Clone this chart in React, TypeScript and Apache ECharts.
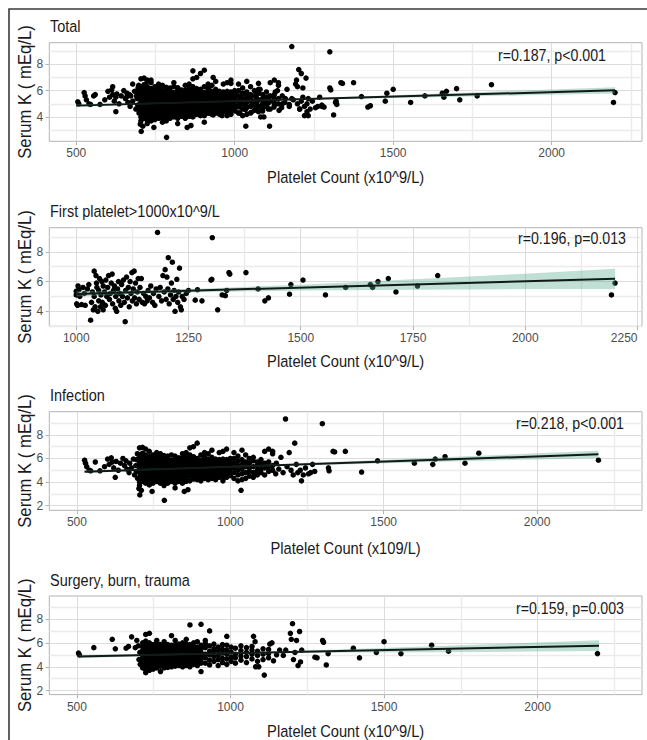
import React, { useEffect, useRef } from "react";
import * as echarts from "echarts";

// ---------- data: Infection ----------
const infectionSparse: [number, number][] = [
  [525, 5.85], [528, 5.6], [532, 5.3], [540, 5.0], [545, 4.95], [560, 5.7], [575, 4.95], [590, 5.3],
  [600, 5.95], [605, 5.5], [612, 6.05], [615, 5.7], [620, 5.2], [625, 4.4], [628, 5.75], [635, 5.0],
  [642, 5.6], [650, 6.0], [655, 5.4], [660, 5.8], [663, 5.1], [670, 4.8], [672, 5.6], [678, 5.2],
  [684, 5.95], [688, 4.6], [692, 5.4], [695, 5.9], [694, 4.9], [697, 6.4], [698, 4.3],
  [702, 3.45], [705, 2.9], [710, 3.3], [745, 3.2], [785, 2.45], [850, 3.2], [862, 3.35], [1035, 3.3],
  [1148, 4.7], [1150, 5.6], [1158, 5.1], [1165, 6.1], [1172, 4.8], [1180, 9.35], [1185, 5.3], [1192, 6.5],
  [1198, 5.0], [1205, 4.6], [1210, 7.3], [1215, 5.5], [1220, 4.8], [1228, 5.0], [1232, 4.1], [1238, 4.6],
  [1245, 5.2], [1255, 4.7], [1262, 4.8], [1268, 5.5], [1275, 4.9],
  [1300, 8.95], [1320, 5.2], [1322, 4.95], [1335, 6.6], [1340, 6.55], [1375, 6.6], [1428, 4.85], [1480, 5.8],
  [1600, 5.6], [1660, 5.5], [1668, 5.95], [1700, 6.15], [1765, 5.6], [1810, 6.45], [2200, 5.85],
];
const infectionColumns: [number, number[]][] = [
  [704, [3.7, 4.0, 4.4, 4.8, 5.1, 5.4, 5.7, 6.0, 6.3, 6.9]],
  [714, [4.05, 4.35, 4.65, 4.95, 5.25, 5.55, 5.85, 6.15, 6.45, 6.95]],
  [724, [3.9, 4.2, 4.5, 4.8, 5.1, 5.4, 5.7, 6.0, 6.3, 6.8]],
  [736, [3.75, 4.05, 4.35, 4.65, 4.95, 5.25, 5.55, 5.85, 6.15, 6.6]],
  [748, [3.9, 4.2, 4.5, 4.8, 5.1, 5.4, 5.7, 6.0, 6.3]],
  [760, [4.05, 4.35, 4.65, 4.95, 5.25, 5.55, 5.85, 6.15, 6.5]],
  [772, [3.9, 4.2, 4.5, 4.8, 5.1, 5.4, 5.7, 6.0, 6.4]],
  [784, [3.7, 4.05, 4.35, 4.65, 4.95, 5.25, 5.55, 5.85, 6.25]],
  [796, [3.9, 4.2, 4.5, 4.8, 5.1, 5.4, 5.7, 6.0, 6.2]],
  [808, [4.05, 4.35, 4.65, 4.95, 5.25, 5.55, 5.85, 6.3]],
  [820, [3.5, 3.9, 4.2, 4.5, 4.8, 5.1, 5.4, 5.7, 6.0, 6.2]],
  [832, [4.05, 4.35, 4.65, 4.95, 5.25, 5.55, 5.85, 6.05]],
  [844, [3.9, 4.2, 4.5, 4.8, 5.1, 5.4, 5.7, 6.0, 6.4]],
  [856, [4.05, 4.35, 4.65, 4.95, 5.25, 5.55, 5.85, 6.15, 6.5]],
  [868, [4.1, 4.5, 4.8, 5.1, 5.4, 5.7, 6.0, 6.3, 6.9]],
  [880, [4.25, 4.65, 4.95, 5.25, 5.55, 5.85, 6.15, 7.0]],
  [892, [4.2, 4.5, 4.8, 5.1, 5.4, 5.7, 6.0, 7.3]],
  [904, [4.1, 4.35, 4.65, 4.95, 5.25, 5.55, 5.85, 6.3]],
  [916, [4.3, 4.6, 4.9, 5.2, 5.5, 5.8, 6.1, 6.5]],
  [928, [4.2, 4.45, 4.75, 5.05, 5.35, 5.65, 5.95, 6.4]],
  [940, [4.3, 4.6, 4.9, 5.2, 5.5, 5.8, 6.1, 6.7]],
  [952, [4.2, 4.45, 4.75, 5.05, 5.35, 5.65, 5.95]],
  [964, [4.4, 4.7, 5.0, 5.3, 5.6, 5.9, 6.5]],
  [976, [4.1, 4.45, 4.75, 5.05, 5.35, 5.65, 5.95, 6.6]],
  [988, [4.4, 4.7, 5.0, 5.3, 5.6, 5.9, 6.8]],
  [1000, [4.55, 4.85, 5.15, 5.45, 5.75, 6.0]],
  [1012, [4.3, 4.8, 5.2, 5.6, 6.0, 6.5]],
  [1025, [4.1, 4.6, 5.0, 5.4, 5.8, 6.2]],
  [1038, [4.2, 4.7, 5.1, 5.5, 5.9, 6.7]],
  [1050, [4.3, 4.8, 5.3, 5.7, 6.3]],
  [1062, [4.5, 4.9, 5.2, 5.6, 6.0]],
  [1075, [4.4, 4.8, 5.3, 5.8, 6.1]],
  [1088, [4.6, 5.0, 5.4, 5.7]],
  [1100, [4.8, 5.1, 5.5, 5.9]],
  [1112, [4.6, 5.2, 5.6, 6.6]],
  [1125, [4.9, 5.3, 5.7, 6.8]],
  [1138, [5.0, 5.4, 6.4, 6.6]],
];

// ---------- data: Surgery, burn, trauma ----------
const surgerySparse: [number, number][] = [
  [505, 5.15], [508, 5.0], [555, 5.6], [615, 6.3], [625, 5.5], [660, 5.55], [668, 5.7], [678, 6.5],
  [690, 5.6], [695, 6.2], [700, 5.75], [705, 5.2], [702, 4.6], [706, 4.2],
  [1075, 6.55], [1080, 6.1], [1082, 4.0], [1092, 4.0], [1110, 3.3], [1128, 5.9], [1135, 6.0], [1140, 4.5],
  [1150, 5.0], [1160, 5.4], [1172, 4.95], [1180, 5.4], [1195, 6.8], [1198, 6.3], [1202, 7.6], [1205, 4.6],
  [1210, 5.2], [1215, 6.2], [1220, 4.1], [1225, 6.95], [1228, 4.4], [1232, 5.4], [1275, 4.8], [1282, 4.75],
  [1300, 6.2], [1303, 6.05], [1312, 4.15], [1318, 5.1], [1400, 5.55], [1420, 4.75], [1475, 5.2], [1500, 6.1],
  [1555, 5.1], [1655, 5.8], [1710, 5.3], [2195, 5.1],
];
const surgeryColumns: [number, number[]][] = [
  [714, [3.9, 4.2, 4.5, 4.8, 5.1, 5.4, 5.7, 6.0]],
  [724, [3.5, 3.75, 4.05, 4.35, 4.65, 4.95, 5.25, 5.55, 5.85, 6.15, 6.7]],
  [736, [3.7, 3.9, 4.2, 4.5, 4.8, 5.1, 5.4, 5.7, 6.0, 6.8]],
  [748, [3.8, 4.05, 4.35, 4.65, 4.95, 5.25, 5.55, 5.85]],
  [760, [3.9, 4.2, 4.5, 4.8, 5.1, 5.4, 5.7, 6.0, 6.2]],
  [772, [3.6, 4.05, 4.35, 4.65, 4.95, 5.25, 5.55, 5.85]],
  [784, [3.9, 4.2, 4.5, 4.8, 5.1, 5.4, 5.7, 6.1]],
  [796, [3.95, 4.35, 4.65, 4.95, 5.25, 5.55, 5.85]],
  [808, [4.0, 4.3, 4.6, 4.9, 5.2, 5.5, 5.8, 6.6]],
  [820, [4.05, 4.35, 4.65, 4.95, 5.25, 5.55, 5.85, 6.2]],
  [832, [4.1, 4.4, 4.7, 5.0, 5.3, 5.6, 5.9]],
  [844, [4.0, 4.3, 4.6, 4.9, 5.2, 5.5, 5.8, 6.0]],
  [856, [4.1, 4.4, 4.7, 5.0, 5.3, 5.6, 5.9, 6.3]],
  [868, [4.0, 4.35, 4.65, 4.95, 5.25, 5.55, 5.85, 7.5]],
  [880, [4.2, 4.5, 4.8, 5.1, 5.4, 5.7, 6.0]],
  [892, [4.1, 4.45, 4.75, 5.05, 5.35, 5.65, 6.1]],
  [904, [3.6, 4.3, 4.6, 4.9, 5.2, 5.5, 5.8, 7.55]],
  [918, [4.3, 4.75, 5.05, 5.6, 5.95, 6.2]],
  [932, [4.15, 4.55, 5.0, 5.3, 5.75, 7.0]],
  [946, [4.45, 4.85, 5.25, 5.5, 5.9]],
  [960, [4.1, 4.6, 4.95, 5.35, 5.65]],
  [974, [4.35, 4.7, 5.15, 5.45, 5.85]],
  [988, [4.2, 4.65, 5.05, 5.4, 5.8, 6.55]],
  [1002, [4.45, 4.8, 5.25, 5.65]],
  [1016, [4.3, 4.75, 5.05, 5.55]],
  [1034, [4.55, 4.9, 5.35, 5.75]],
  [1052, [4.35, 4.85, 5.2, 5.6]],
  [1070, [4.65, 5.05, 5.4, 5.7]],
  [1088, [4.45, 4.95, 5.3]],
  [1106, [4.6, 5.05, 5.5]],
  [1124, [4.75, 5.1, 5.45]],
];

// ---------- data: First platelet > 1000 ----------
const firstPlatelet: [number, number][] = [
  [1000, 5.1], [1000, 5.35], [1001, 4.5], [1003, 4.4], [1004, 5.7], [1006, 5.45], [1008, 5.0], [1012, 4.45],
  [1015, 5.6], [1018, 5.2], [1020, 4.4], [1025, 5.5], [1028, 5.8], [1032, 3.4], [1034, 4.6], [1036, 5.3],
  [1038, 4.1], [1040, 6.7], [1040, 5.0], [1042, 4.3], [1044, 6.4], [1045, 5.9], [1046, 5.6], [1048, 4.0],
  [1050, 4.7], [1050, 5.4], [1052, 6.2], [1054, 4.3], [1055, 5.1], [1057, 6.0], [1058, 4.6], [1060, 5.7],
  [1060, 4.1], [1063, 5.3], [1065, 4.4], [1066, 6.1], [1068, 5.0], [1070, 5.6], [1072, 6.4], [1074, 4.8],
  [1076, 5.2], [1078, 5.9], [1080, 6.5], [1081, 4.5], [1083, 5.4], [1085, 5.7], [1087, 4.2], [1088, 5.0],
  [1090, 4.0], [1092, 5.5], [1094, 6.0], [1095, 4.7], [1097, 5.2], [1099, 4.4], [1101, 5.8], [1103, 5.0],
  [1105, 6.1], [1107, 4.6], [1109, 3.3], [1110, 5.4], [1112, 6.3], [1114, 4.9], [1116, 5.6], [1118, 4.3],
  [1120, 6.0], [1122, 5.2], [1124, 6.6], [1125, 4.7], [1127, 5.5], [1129, 6.7], [1130, 4.9], [1132, 5.9],
  [1134, 4.5], [1136, 5.3], [1138, 6.2], [1140, 4.8], [1142, 5.6], [1145, 6.2], [1147, 4.6], [1150, 5.2],
  [1152, 4.5], [1155, 5.0], [1158, 4.7], [1160, 5.4], [1163, 4.9], [1166, 5.7], [1170, 4.6], [1172, 5.2],
  [1175, 4.4], [1178, 5.5], [1181, 9.3], [1184, 5.0], [1187, 5.6], [1190, 4.7], [1193, 6.4], [1196, 5.3],
  [1198, 6.8], [1200, 4.8], [1202, 6.3], [1204, 5.5], [1205, 7.6], [1207, 4.5], [1210, 5.1], [1212, 5.9],
  [1214, 7.3], [1216, 4.8], [1218, 5.4], [1220, 4.0], [1222, 5.0], [1224, 6.15], [1226, 4.6], [1228, 5.3],
  [1230, 6.9], [1232, 4.3], [1234, 4.1], [1236, 5.0], [1240, 4.8], [1245, 5.2], [1250, 5.4],
  [1265, 4.75], [1270, 5.45], [1280, 4.7], [1300, 6.1], [1302, 6.15], [1303, 8.95], [1315, 4.1], [1325, 5.1],
  [1332, 5.05], [1335, 5.4], [1340, 6.6], [1342, 6.5], [1378, 6.6], [1405, 5.5], [1420, 4.7], [1428, 4.9],
  [1475, 5.15], [1478, 5.8], [1505, 6.1], [1555, 5.1], [1600, 5.6], [1655, 5.8], [1660, 5.6], [1672, 6.0],
  [1695, 6.2], [1712, 5.3], [1760, 5.7], [1805, 6.4], [2192, 5.1], [2200, 5.9],
];

// ---------- fitted lines and confidence bands ----------
const totalFit: [number, number][] = [[500, 4.86], [2200, 6.02]];
const totalBandX = [500, 700, 900, 1100, 1300, 1500, 1700, 1950, 2200];
const totalBandLo = [4.76, 4.94, 5.09, 5.22, 5.34, 5.44, 5.54, 5.66, 5.78];
const totalBandHi = [4.96, 5.06, 5.17, 5.32, 5.48, 5.64, 5.82, 6.04, 6.26];

const firstFit: [number, number][] = [[1000, 5.17], [2200, 6.18]];
const firstBandX = [1000, 1150, 1300, 1500, 1750, 2000, 2200];
const firstBandLo = [5.0, 5.18, 5.29, 5.39, 5.45, 5.49, 5.5];
const firstBandHi = [5.34, 5.42, 5.55, 5.79, 6.15, 6.53, 6.86];

const infectionFit: [number, number][] = [[525, 4.88], [2200, 6.35]];
const infectionBandX = [525, 850, 1150, 1450, 1750, 2000, 2200];
const infectionBandLo = [4.76, 5.12, 5.36, 5.56, 5.76, 5.92, 6.05];
const infectionBandHi = [5.0, 5.22, 5.5, 5.82, 6.16, 6.44, 6.65];

const surgeryFit: [number, number][] = [[505, 4.86], [2200, 5.76]];
const surgeryBandX = [505, 800, 1100, 1400, 1700, 2000, 2200];
const surgeryBandLo = [4.71, 4.96, 5.11, 5.19, 5.22, 5.27, 5.31];
const surgeryBandHi = [5.01, 5.08, 5.25, 5.49, 5.76, 6.03, 6.21];

// ---------- texts / ticks ----------
const panelTitles = ["Total", "First platelet>1000x10^9/L", "Infection", "Surgery, burn, trauma"];
const statLabels = ["r=0.187, p<0.001", "r=0.196, p=0.013", "r=0.218, p<0.001", "r=0.159, p=0.003"];
const xTitles = ["Platelet Count (x10^9/L)", "Platelet Count (x10^9/L)", "Platelet Count (x109/L)", "Platelet Count (x10^9/L)"];
const yTitle = "Serum K ( mEq/L)";
const xMajorA = [500, 1000, 1500, 2000];
const xMinorA = [750, 1250, 1750, 2250];
const xMajorB = [1000, 1250, 1500, 1750, 2000, 2250];
const xMinorB = [1125, 1375, 1625, 1875, 2125];
const yMajor3 = [4, 6, 8];
const yMajor4 = [2, 4, 6, 8];
const yMinor = [3, 5, 7, 9];

const flatten = (cols: [number, number[]][]) => {
  const out: [number, number][] = [];
  cols.forEach(([x, ys]) => ys.forEach((y) => out.push([x, y])));
  return out;
};

export default function App() {
  const ref = useRef<HTMLDivElement>(null);
  useEffect(() => {
    if (!ref.current) return;
    const chart = echarts.init(ref.current, undefined, { renderer: "svg" });

    const infection = [...infectionSparse, ...flatten(infectionColumns)];
    const surgery = [...surgerySparse, ...flatten(surgeryColumns)];
    const total = [...infection, ...surgery];

    const panels = [
      { top: 42.7, xr: [415, 2285], yr: [2.15, 9.64], xMaj: xMajorA, xMin: xMinorA, yMaj: yMajor3, pts: total, fit: totalFit, bx: totalBandX, bl: totalBandLo, bh: totalBandHi, statX: 606, statY: 55, titleY: 26, xtY: 177 },
      { top: 227.7, xr: [940, 2260], yr: [2.99, 9.62], xMaj: xMajorB, xMin: xMinorB, yMaj: yMajor3, pts: firstPlatelet, fit: firstFit, bx: firstBandX, bl: firstBandLo, bh: firstBandHi, statX: 626, statY: 238, titleY: 211.5, xtY: 361.5 },
      { top: 411.7, xr: [410, 2342], yr: [1.6, 9.97], xMaj: xMajorA, xMin: xMinorA, yMaj: yMajor4, pts: infection, fit: infectionFit, bx: infectionBandX, bl: infectionBandLo, bh: infectionBandHi, statX: 624, statY: 423, titleY: 395, xtY: 548 },
      { top: 596, xr: [410, 2340], yr: [1.67, 9.92], xMaj: xMajorA, xMin: xMinorA, yMaj: yMajor4, pts: surgery, fit: surgeryFit, bx: surgeryBandX, bl: surgeryBandLo, bh: surgeryBandHi, statX: 624, statY: 608, titleY: 580, xtY: 731.5 },
    ];

    const gridLeft = 49.3;
    const gridW = 592.7;
    const gridH = 98.6;
    const grids: any[] = [];
    const xAxes: any[] = [];
    const yAxes: any[] = [];
    const series: any[] = [];
    const graphics: any[] = [];
    const sans = "'Liberation Sans', Arial, sans-serif";
    const tickLabel = (v: number) => String(v);

    panels.forEach((p, i) => {
      grids.push({
        left: gridLeft, top: p.top, width: gridW, height: gridH,
        show: true, borderColor: "#b3b3b3", borderWidth: 1, backgroundColor: "transparent",
        outerBoundsMode: "none", containLabel: false,
      });
      const common = { type: "value", gridIndex: i, min: p.xr[0], max: p.xr[1] };
      xAxes.push({
        ...common, position: "bottom",
        axisLine: { show: false },
        axisTick: { show: true, length: 3.7, lineStyle: { color: "#b3b3b3", width: 1 }, customValues: p.xMaj },
        axisLabel: { show: true, customValues: p.xMaj, formatter: tickLabel, color: "#4d4d4d", fontSize: 12, margin: 6, fontFamily: sans, alignMaxLabel: i === 1 ? "right" : null },
        splitLine: { show: true, customValues: p.xMaj, lineStyle: { color: "#dcdcdc", width: 1 } },
      });
      xAxes.push({
        ...common, position: "top",
        axisLine: { show: false },
        axisTick: { show: false, customValues: p.xMin },
        axisLabel: { show: false },
        splitLine: { show: true, customValues: p.xMin, lineStyle: { color: "#ebebeb", width: 1.4 } },
      });
      const ycommon = { type: "value", gridIndex: i, min: p.yr[0], max: p.yr[1] };
      yAxes.push({
        ...ycommon, position: "left",
        axisLine: { show: false },
        axisTick: { show: true, length: 3.7, lineStyle: { color: "#b3b3b3", width: 1 }, customValues: p.yMaj },
        axisLabel: { show: true, customValues: p.yMaj, formatter: tickLabel, color: "#4d4d4d", fontSize: 12, margin: 6, fontFamily: sans },
        splitLine: { show: true, customValues: p.yMaj, lineStyle: { color: "#dcdcdc", width: 1 } },
      });
      yAxes.push({
        ...ycommon, position: "right",
        axisLine: { show: false },
        axisTick: { show: false, customValues: yMinor },
        axisLabel: { show: false },
        splitLine: { show: true, customValues: yMinor, lineStyle: { color: "#ebebeb", width: 1.4 } },
      });

      const xi = i * 2;
      const yi = i * 2;
      series.push({
        type: "scatter", xAxisIndex: xi, yAxisIndex: yi, data: p.pts,
        symbol: "circle", symbolSize: 5.5, itemStyle: { color: "#000000", opacity: 1 }, silent: true, z: 2, clip: true,
      });
      const bx = p.bx, bl = p.bl, bh = p.bh;
      series.push({
        type: "custom", xAxisIndex: xi, yAxisIndex: yi, silent: true, z: 3, clip: true,
        data: bx.map((x, k) => [x, bl[k], bh[k]]),
        encode: { x: 0, y: [1, 2] },
        renderItem: (params: any, api: any) => {
          if (params.dataIndex !== 0) return null;
          const pts: number[][] = [];
          for (let k = 0; k < bx.length; k++) pts.push(api.coord([bx[k], bh[k]]));
          for (let k = bx.length - 1; k >= 0; k--) pts.push(api.coord([bx[k], bl[k]]));
          return { type: "polygon", shape: { points: pts }, style: { fill: "rgba(90,170,145,0.38)", stroke: "none" } };
        },
      });
      series.push({
        type: "line", xAxisIndex: xi, yAxisIndex: yi, data: p.fit, symbol: "none", silent: true, z: 4,
        lineStyle: { color: "#111a16", width: 2 },
      });

      const txt = (text: string, x: number, y: number, size: number, align: string, extra: any = {}) => ({
        type: "text", x, y, z: 100, silent: true, scaleY: 1.12, ...extra,
        style: { text, fill: "#1a1a1a", fontSize: size, fontFamily: sans, align, verticalAlign: "middle", textAlign: align, textVerticalAlign: "middle" },
      });
      graphics.push(txt(panelTitles[i], 50, p.titleY, 14.5, "left"));
      graphics.push(txt(statLabels[i], p.statX, p.statY, 14.2, "right"));
      graphics.push(txt(xTitles[i], gridLeft + gridW / 2, p.xtY, 14.7, "center"));
      graphics.push(txt(yTitle, 24.5, p.top + gridH / 2, 16.7, "center", { rotation: Math.PI / 2, scaleY: 1.1 }));
    });

    graphics.push({
      type: "rect", silent: true, z: 100,
      shape: { x: 9, y: 9, width: 700, height: 800 },
      style: { fill: "none", stroke: "#3a3a3a", lineWidth: 1.6 },
    });

    chart.setOption({
      animation: false,
      backgroundColor: "#ffffff",
      grid: grids,
      xAxis: xAxes,
      yAxis: yAxes,
      series,
      graphic: { elements: graphics },
    });
    return () => chart.dispose();
  }, []);
  return <div ref={ref} style={{ position: "absolute", left: 0, top: 0, width: 647, height: 740 }} />;
}
